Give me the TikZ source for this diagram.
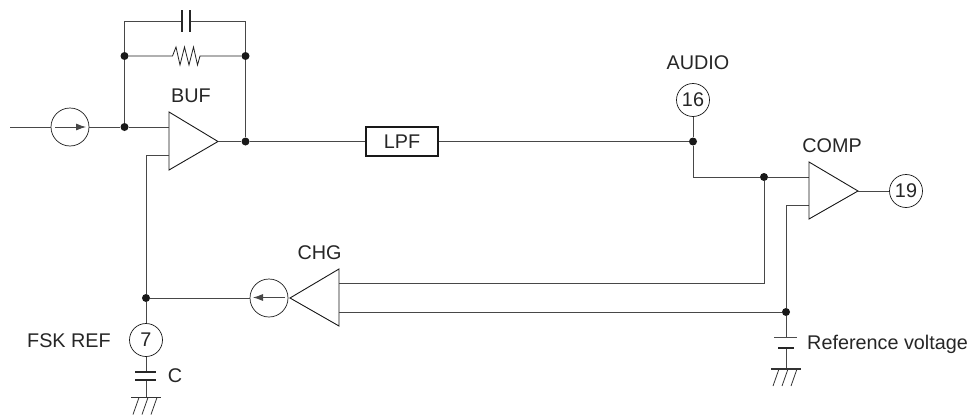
\documentclass[tikz,border=0pt]{standalone}
\usepackage{fontspec}
\setmainfont{Liberation Sans}
\usetikzlibrary{calc,arrows.meta}
\def\groundmark(#1){\draw[line width=1.1pt, color=black!80] ($(#1)+(-15,0)$) -- ($(#1)+(15,0)$);
	\foreach \hx in {-7,2,11} \draw[line width=0.8pt, color=black!80] ($(#1)+(\hx,0)$) -- ($(#1)+(\hx-6,17)$);}
\tikzset{
	wire/.style={line width=0.8pt, color=black!72},
	amp/.style={line width=0.9pt, color=black!90},
	dotmark/.style={circle, fill=black!90, inner sep=0pt, minimum size=8pt},
	pinmark/.style={circle, draw=black!90, line width=0.7pt, fill=white, inner sep=0pt, minimum size=33pt, font=\fontsize{19.8}{22}\selectfont, text=black!85},
	srcmark/.style={circle, draw=black!90, line width=0.7pt, inner sep=0pt, minimum size=38pt},
	lbl/.style={font=\fontsize{19.8}{22}\selectfont, text=black!85, inner sep=0pt}
}
\begin{document}
\begin{tikzpicture}[x=1pt, y=-1pt]
	%%%%% START %%%%%
	\useasboundingbox (0, 0) rectangle (972, 415);

	% input side
	\coordinate (inl) at (10, 127);
	\node[srcmark] (srcin) at (70, 127) {};
	\node[dotmark] (ja) at (124.5, 127) {};
	\node[dotmark] (jb) at (124.5, 56) {};
	\node[dotmark] (jc) at (245.5, 56) {};
	\node[dotmark] (jd) at (245.5, 141.5) {};
	\draw[wire] (inl) -- (srcin);
	\draw[wire] (srcin) -- (ja);
	\draw[wire, -{Latex[length=10pt, width=7pt]}] (55, 127) -- (86, 127);

	% feedback
	\coordinate (capl) at (182, 21);
	\coordinate (capr) at (190, 21);
	\draw[wire] (ja) -- (jb) -- (124.5, 21) -- (capl);
	\draw[wire] (capr) -- (245.5, 21) -- (jc) -- (jd);
	\draw[line width=1.3pt, color=black!85] (182, 10) -- (182, 32);
	\draw[line width=1.3pt, color=black!85] (190, 10) -- (190, 32);
	\draw[wire, color=black!88] (jb) -- (172.5, 56) -- (176, 47) -- (180, 65) -- (184.5, 47) -- (189, 65) -- (193.5, 47) -- (197.5, 65) -- (200, 56) -- (jc);

	% BUF
	\draw[amp, fill=white] (169, 112) -- (218, 141.5) -- (169, 170) -- cycle;
	\node[lbl] (buflbl) at (191, 96) {BUF};
	\draw[wire] (ja) -- (169, 127);
	\draw[wire] (218, 141.5) -- (jd);

	% LPF
	\node[draw=black!90, line width=1.4pt, minimum width=72pt, minimum height=29pt, inner sep=0pt, lbl] (lpf) at (402, 141.5) {LPF};
	\node[dotmark] (je) at (693, 141.5) {};
	\node[pinmark] (pinaudio) at (693, 100) {16};
	\node[lbl] (audiolbl) at (698, 63) {AUDIO};
	\draw[wire] (jd) -- (lpf);
	\draw[wire] (lpf) -- (je);
	\draw[wire] (pinaudio) -- (je);

	% COMP
	\node[dotmark] (jf) at (764, 177) {};
	\node[dotmark] (jg) at (786, 312) {};
	\draw[wire] (je) -- (693, 177) -- (jf) -- (809, 177);
	\draw[wire] (jg) -- (786, 205) -- (809, 205);
	\draw[amp, fill=white] (809, 162) -- (858, 191) -- (809, 219) -- cycle;
	\node[lbl] (complbl) at (832, 146) {COMP};
	\node[pinmark] (pinout) at (906, 191) {19};
	\draw[wire] (858, 191) -- (pinout);

	% CHG
	\draw[amp, fill=white] (339, 269) -- (290, 298) -- (339, 326) -- cycle;
	\node[lbl] (chglbl) at (319.5, 253) {CHG};
	\node[srcmark] (srcchg) at (269, 298) {};
	\draw[wire, -{Latex[length=10pt, width=7pt]}] (285, 297.5) -- (253, 297.5);
	\draw[wire] (jf) -- (764, 283) -- (339, 283);
	\draw[wire] (jg) -- (339, 312);

	% FSK REF
	\node[dotmark] (jh) at (146, 298) {};
	\node[pinmark] (pinfsk) at (146, 340) {7};
	\node[lbl] (fsklbl) at (69, 341) {FSK REF};
	\node[lbl] (clbl) at (175, 376) {C};
	\draw[wire] (169, 155) -- (146, 155) -- (jh);
	\draw[wire] (jh) -- (srcchg);
	\draw[wire] (jh) -- (pinfsk);
	\coordinate (gnda) at (146, 397.5);
	\draw[wire] (pinfsk) -- (146, 372);
	\draw[wire] (146, 380) -- (gnda);
	\draw[line width=1.3pt, color=black!85] (135, 372) -- (156, 372);
	\draw[line width=1.3pt, color=black!85] (135, 380) -- (156, 380);
	\groundmark(gnda)

	% reference voltage
	\coordinate (gndb) at (786, 369);
	\draw[wire] (jg) -- (786, 337);
	\draw[wire] (786, 348) -- (gndb);
	\draw[line width=0.6pt, color=black!70] (774, 337) -- (797, 337);
	\draw[line width=1.3pt, color=black!85] (778, 348) -- (794, 348);
	\groundmark(gndb)
	\node[lbl, anchor=west] (reflbl) at (807, 344) {Reference voltage};
	%%%%% END %%%%%
\end{tikzpicture}
\end{document}
